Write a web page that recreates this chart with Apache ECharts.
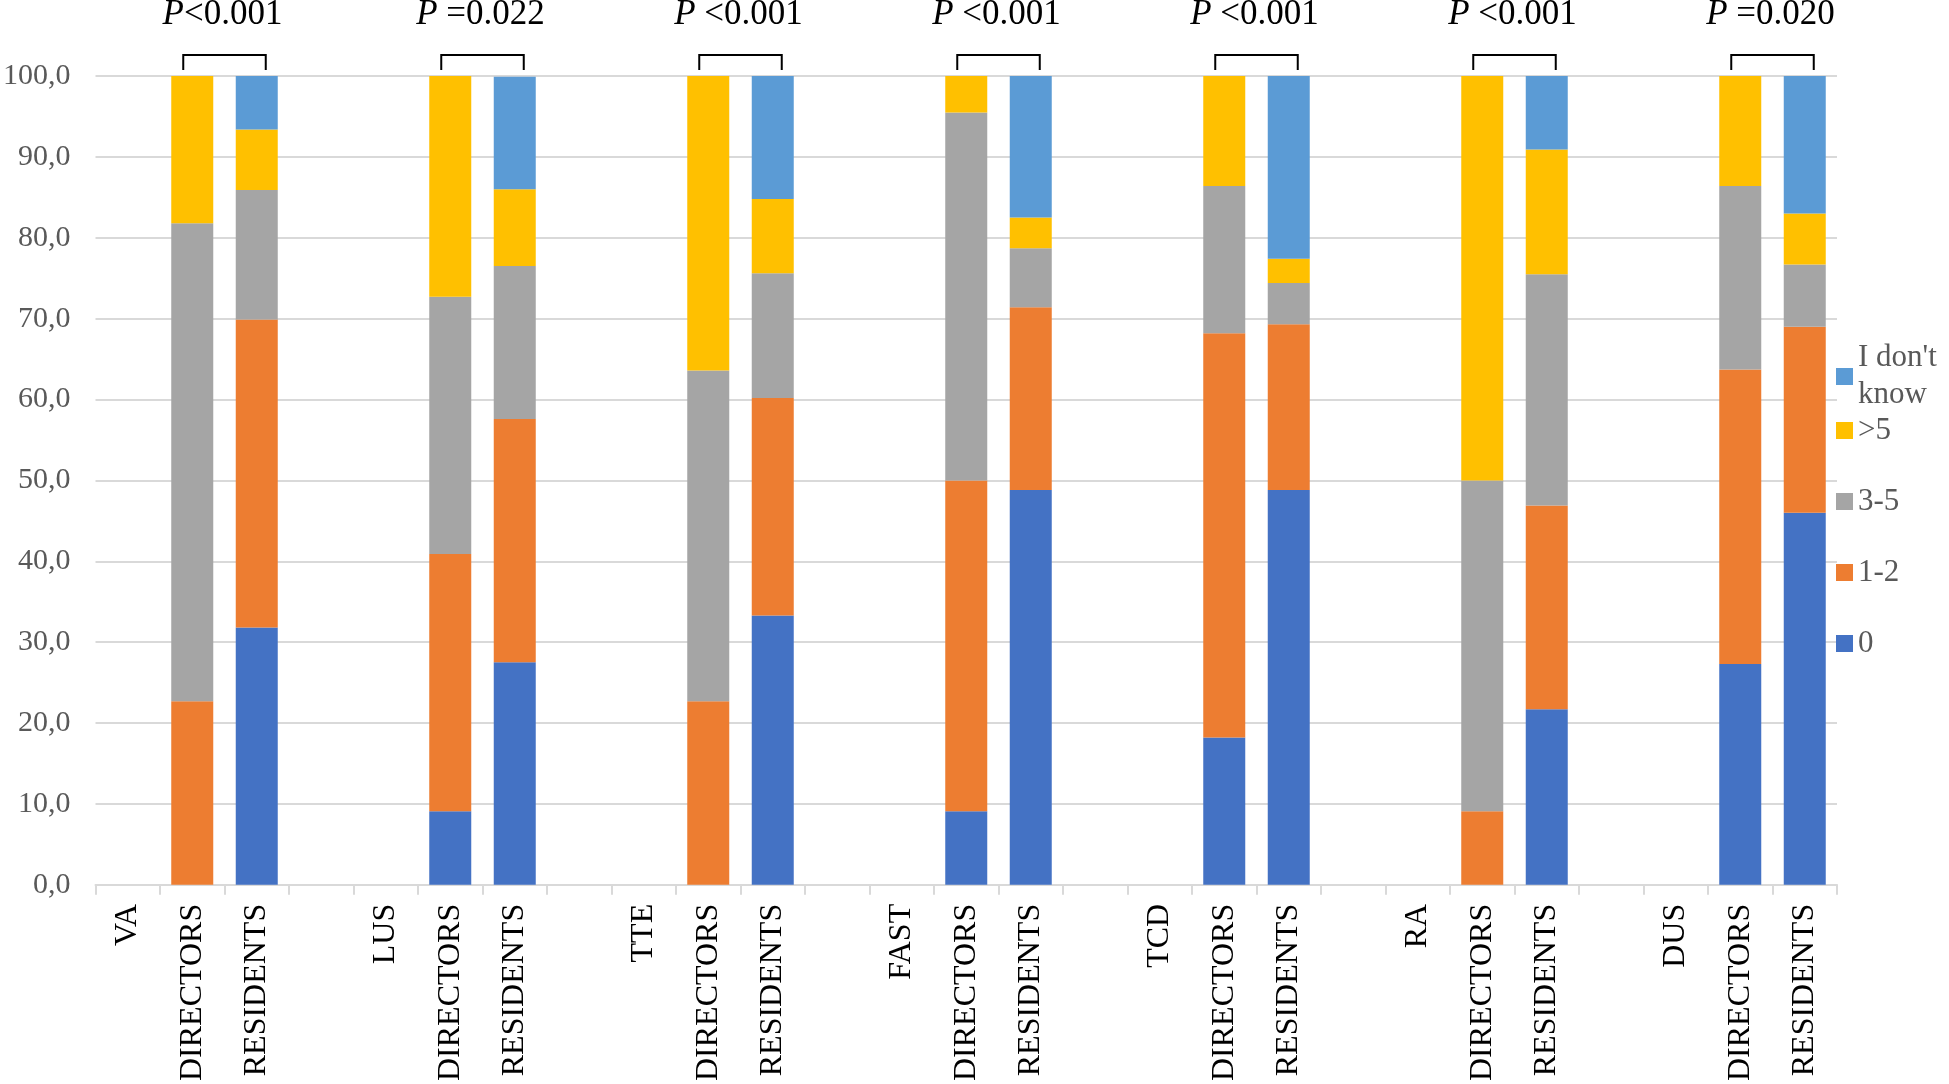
<!DOCTYPE html>
<html>
<head>
<meta charset="utf-8">
<script src="https://cdn.jsdelivr.net/npm/echarts@6/dist/echarts.min.js"></script>
<style>
html,body{margin:0;padding:0;background:#fff;}
#chart{width:1949px;height:1084px;}
</style>
</head>
<body>
<div id="chart"></div>
<script>
// ---- Data ----
const techniques = ['VA', 'LUS', 'TTE', 'FAST', 'TCD', 'RA', 'DUS'];
const groups = ['DIRECTORS', 'RESIDENTS'];
const pPrefix = ['P', 'P ', 'P ', 'P ', 'P ', 'P ', 'P '];
const pValues = ['<0.001', '=0.022', '<0.001', '<0.001', '<0.001', '<0.001', '=0.020'];
const seriesNames = ['0', '1-2', '3-5', '>5', "I don't know"];

// values per technique (VA, LUS, TTE, FAST, TCD, RA, DUS)
const dir_0   = [0,    9.1,  0,    9.1,  18.2, 0,    27.3];
const dir_12  = [22.7, 31.8, 22.7, 40.9, 50.0, 9.1,  36.4];
const dir_35  = [59.1, 31.8, 40.9, 45.5, 18.2, 40.9, 22.7];
const dir_gt5 = [18.2, 27.3, 36.4, 4.5,  13.6, 50.0, 13.6];
const dir_idk = [0,    0,    0,    0,    0,    0,    0];

const res_0   = [31.8, 27.5, 33.3, 48.8, 48.8, 21.7, 46.0];
const res_12  = [38.1, 30.1, 26.9, 22.6, 20.5, 25.2, 23.0];
const res_35  = [16.0, 18.9, 15.4, 7.3,  5.1,  28.6, 7.7];
const res_gt5 = [7.5,  9.5,  9.2,  3.8,  3.0,  15.4, 6.3];
const res_idk = [6.6,  13.9, 15.2, 17.5, 22.6, 9.1,  17.0];

const colors = ['#4472C4', '#ED7D31', '#A5A5A5', '#FFC000', '#5B9BD5'];

// ---- Build categories & series ----
const categories = [];
techniques.forEach((t, i) => {
  categories.push(t, groups[0], groups[1]);
  if (i < techniques.length - 1) categories.push('');
});
function build(dirArr, resArr) {
  const out = [];
  techniques.forEach((t, i) => {
    out.push('-', dirArr[i], resArr[i]);
    if (i < techniques.length - 1) out.push('-');
  });
  return out;
}
const dirAll = [dir_0, dir_12, dir_35, dir_gt5, dir_idk];
const resAll = [res_0, res_12, res_35, res_gt5, res_idk];

const FONT = '"Liberation Serif", "Times New Roman", serif';
const XFONT = '"Liberation Serif", serif';

const barSeries = seriesNames.map((name, k) => ({
  name: name,
  type: 'bar',
  stack: 'total',
  barWidth: 42,
  data: build(dirAll[k], resAll[k]),
  itemStyle: { color: colors[k] },
  emphasis: { disabled: true },
  z: 2
}));

const bracketData = techniques.map((t, i) => [i * 4 + 1, i * 4 + 2, i]);

const bracketSeries = {
  type: 'custom',
  name: 'brackets',
  data: bracketData,
  clip: false,
  silent: true,
  z: 5,
  encode: { x: 0, y: 1 },
  renderItem: function (params, api) {
    const i = api.value(2);
    const p1 = api.coord([api.value(0), 100]);
    const p2 = api.coord([api.value(1), 100]);
    const x1 = p1[0] - 9, x2 = p2[0] + 9;
    const yTop = p1[1] - 21, yBot = p1[1] - 6;
    return {
      type: 'group',
      children: [
        {
          type: 'polyline',
          shape: { points: [[x1, yBot], [x1, yTop], [x2, yTop], [x2, yBot]] },
          style: { stroke: '#000', lineWidth: 2, fill: null }
        },
        {
          type: 'text',
          style: {
            text: '{i|' + pPrefix[i] + '}{n|' + pValues[i] + '}',
            x: (p1[0] + p2[0]) / 2 - 2,
            y: p1[1] - 61,
            align: 'center',
            verticalAlign: 'middle',
            rich: {
              i: { fontFamily: FONT, fontStyle: 'italic', fontSize: 35, fill: '#000' },
              n: { fontFamily: FONT, fontSize: 35, fill: '#000' }
            }
          }
        }
      ]
    };
  }
};

const chart = echarts.init(document.getElementById('chart'), null, { renderer: 'canvas' });
chart.setOption({
  backgroundColor: '#fff',
  animation: false,
  grid: { left: 93, right: 112, top: 76, bottom: 199, containLabel: false },
  legend: [
    {
      data: ["I don't know"],
      orient: 'vertical',
      left: 1831,
      top: 316,
      itemWidth: 17,
      itemHeight: 17,
      itemGap: 0,
      icon: 'rect',
      selectedMode: false,
      formatter: function () { return "I don't\nknow"; },
      textStyle: { fontFamily: FONT, fontSize: 31, color: '#595959', lineHeight: 37, padding: [37, 0, 0, 0] }
    },
    {
      data: ['>5', '3-5', '1-2', '0'],
      orient: 'vertical',
      left: 1831,
      top: 407,
      itemWidth: 17,
      itemHeight: 17,
      itemGap: 34,
      icon: 'rect',
      selectedMode: false,
      textStyle: { fontFamily: FONT, fontSize: 31, color: '#595959', lineHeight: 37 }
    }
  ],
  xAxis: {
    type: 'category',
    data: categories,
    axisLine: { show: true, lineStyle: { color: '#D9D9D9', width: 2 } },
    axisTick: { show: true, alignWithLabel: false, interval: 0, length: 10, lineStyle: { color: '#D9D9D9', width: 2 } },
    axisLabel: {
      interval: 0,
      rotate: 90,
      margin: 19,
      fontFamily: XFONT,
      fontSize: 32,
      color: '#000'
    },
    splitLine: { show: false }
  },
  yAxis: {
    type: 'value',
    min: 0,
    max: 100,
    interval: 10,
    axisLine: { show: false },
    axisTick: { show: false },
    axisLabel: {
      margin: 25,
      fontFamily: FONT,
      fontSize: 30,
      color: '#595959',
      formatter: function (v) { return v.toFixed(1).replace('.', ','); }
    },
    splitLine: { show: true, lineStyle: { color: '#D9D9D9', width: 2 } }
  },
  series: barSeries.concat([bracketSeries])
});
</script>
</body>
</html>
